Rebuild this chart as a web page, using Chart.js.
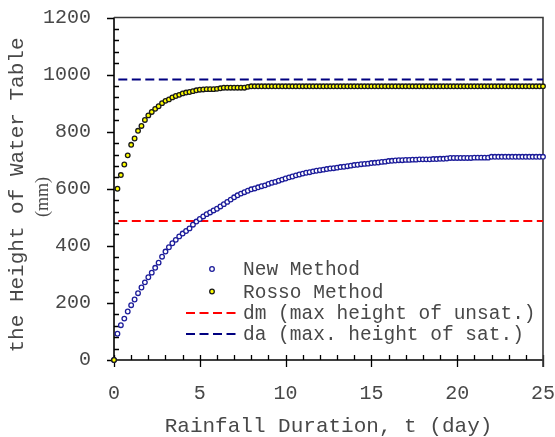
<!DOCTYPE html>
<html>
<head>
<meta charset="utf-8">
<script src="https://cdn.jsdelivr.net/npm/chart.js@4/dist/chart.umd.min.js"></script>
<style>
  html, body { margin: 0; padding: 0; background: #ffffff; }
  #wrap { width: 555px; height: 437px; }
</style>
</head>
<body>
<div id="wrap"><canvas id="c" width="555" height="437"></canvas></div>
<script>
// Rainfall duration (day)
const days = [
  0,0.2,0.4,0.6,0.8,1,1.2,1.4,1.6,1.8,
  2,2.2,2.4,2.6,2.8,3,3.2,3.4,3.6,3.8,
  4,4.2,4.4,4.6,4.8,5,5.2,5.4,5.6,5.8,
  6,6.2,6.4,6.6,6.8,7,7.2,7.4,7.6,7.8,
  8,8.2,8.4,8.6,8.8,9,9.2,9.4,9.6,9.8,
  10,10.2,10.4,10.6,10.8,11,11.2,11.4,11.6,11.8,
  12,12.2,12.4,12.6,12.8,13,13.2,13.4,13.6,13.8,
  14,14.2,14.4,14.6,14.8,15,15.2,15.4,15.6,15.8,
  16,16.2,16.4,16.6,16.8,17,17.2,17.4,17.6,17.8,
  18,18.2,18.4,18.6,18.8,19,19.2,19.4,19.6,19.8,
  20,20.2,20.4,20.6,20.8,21,21.2,21.4,21.6,21.8,
  22,22.2,22.4,22.6,22.8,23,23.2,23.4,23.6,23.8,
  24,24.2,24.4,24.6,24.8,25
];

// Height of water table (mm), new method
const newMethod = [
  0,92,122,145,170,192,212,234,254,272,
  290,306,323,341,362,380,395,409,421,433,
  443,452,461,474,485,494,503,511,517,524,
  530,538,546,554,562,570,577,583,588,593,
  598,601,605,609,612,617,621,624,628,632,
  636,640,643,647,650,653,656,658,661,663,
  665,667,669,671,672,674,676,677,679,681,
  683,684,686,687,688,690,691,692,694,695,
  697,698,699,700,700,701,701,702,702,703,
  703,703,703,704,704,705,705,706,708,708,
  708,708,708,708,708,709,709,709,709,709,
  712,712,712,712,712,712,712,712,712,712,
  712,712,712,712,712,712
];

// Height of water table (mm), Rosso method
const rossoMethod = [
  0,600,648,685,717,754,776,803,820,841,
  857,869,880,889,900,908,913,920,925,929,
  934,937,939,942,945,947,948,949,949,949,
  950,952,954,954,954,954,954,954,954,957,
  959,959,959,959,959,959,959,959,959,959,
  959,959,959,959,959,959,959,959,959,959,
  959,959,959,959,959,959,959,959,959,959,
  959,959,959,959,959,959,959,959,959,959,
  959,959,959,959,959,959,959,959,959,959,
  959,959,959,959,959,959,959,959,959,959,
  959,959,959,959,959,959,959,959,959,959,
  959,959,959,959,959,959,959,959,959,959,
  959,959,959,959,959,959
];

// Reference levels (mm) and the span they are drawn over (day)
const dmLevel = 487;
const daLevel = 983;
const levelSpan = [0.25, 25];

// Axis ticks
const xTickValues = [0, 5, 10, 15, 20, 25];
const yTickValues = [0, 200, 400, 600, 800, 1000, 1200];
const xMinorStep = 1;
const yMinorStep = 40;

const seriesLabels = [
  'New Method',
  'Rosso Method',
  'dm (max height of unsat.)',
  'da (max. height of sat.)'
];

const MONO = '"Liberation Mono", "Courier New", monospace';
const TEXT = '#484848';

const toPoints = (xs, ys) => xs.map((t, i) => ({ x: t, y: ys[i] }));
const levelLine = lvl => levelSpan.map(t => ({ x: t, y: lvl }));

// Minor/major tick marks and the box around the plot
const frameTicks = {
  id: 'frameTicks',
  beforeDatasetsDraw(chart) {
    const { ctx, chartArea: a, scales: { x, y } } = chart;
    ctx.save();
    ctx.strokeStyle = '#000';
    ctx.lineWidth = 1.3;
    ctx.beginPath();
    for (let v = x.min; v <= x.max; v += xMinorStep) {
      const px = Math.round(x.getPixelForValue(v)) + 0.5;
      ctx.moveTo(px, a.bottom);
      ctx.lineTo(px, a.bottom - 5);
    }
    xTickValues.forEach(v => {
      const px = Math.round(x.getPixelForValue(v)) + 0.5;
      ctx.moveTo(px, a.bottom);
      ctx.lineTo(px, a.bottom + 7);
    });
    for (let v = y.min; v <= y.max; v += yMinorStep) {
      if (yTickValues.includes(v)) continue;
      const py = Math.round(y.getPixelForValue(v)) + 0.5;
      ctx.moveTo(a.left, py);
      ctx.lineTo(a.left + 5, py);
    }
    yTickValues.forEach(v => {
      const py = Math.round(y.getPixelForValue(v)) + 0.5;
      ctx.moveTo(a.left - 7, py);
      ctx.lineTo(a.left, py);
    });
    ctx.stroke();

    ctx.lineWidth = 1.6;
    ctx.strokeStyle = '#000';
    ctx.beginPath();
    ctx.moveTo(a.left, a.top);
    ctx.lineTo(a.left, a.bottom);
    ctx.lineTo(a.right, a.bottom);
    ctx.stroke();
    ctx.strokeStyle = '#3a3a3a';
    ctx.beginPath();
    ctx.moveTo(a.left, a.top);
    ctx.lineTo(a.right, a.top);
    ctx.lineTo(a.right, a.bottom + 7);
    ctx.stroke();
    ctx.restore();
  }
};

// Vertical axis title: main line plus unit line
const yTitle = {
  id: 'yTitle',
  afterDraw(chart) {
    const { ctx } = chart;
    ctx.save();
    ctx.fillStyle = TEXT;
    ctx.textAlign = 'center';
    ctx.textBaseline = 'middle';
    ctx.translate(17, 195);
    ctx.rotate(-Math.PI / 2);
    ctx.font = '21px ' + MONO;
    ctx.fillText('the Height of Water Table', 0, 0);
    ctx.font = '18px "Liberation Serif", "Times New Roman", serif';
    ctx.fillText('(mm)', -2, 26.5);
    ctx.restore();
  }
};

// Legend inside the plot area, lower right
const insideLegend = {
  id: 'insideLegend',
  afterDraw(chart) {
    const { ctx, chartArea: a } = chart;
    const textX = a.left + 129;
    const rows = [-91, -68.5, -47, -26];
    ctx.save();
    ctx.font = '19.5px ' + MONO;
    ctx.textBaseline = 'middle';
    ctx.textAlign = 'left';
    chart.data.datasets.forEach((ds, i) => {
      const cy = a.bottom + rows[i];
      if (ds.showLine) {
        ctx.strokeStyle = ds.borderColor;
        ctx.lineWidth = ds.borderWidth;
        ctx.setLineDash(ds.borderDash);
        ctx.beginPath();
        ctx.moveTo(a.left + 72, cy);
        ctx.lineTo(a.left + 123, cy);
        ctx.stroke();
        ctx.setLineDash([]);
      } else {
        ctx.fillStyle = ds.pointBackgroundColor;
        ctx.strokeStyle = ds.pointBorderColor;
        ctx.lineWidth = ds.pointBorderWidth;
        ctx.beginPath();
        ctx.arc(a.left + 98, cy, ds.pointRadius, 0, Math.PI * 2);
        ctx.fill();
        ctx.stroke();
      }
      ctx.fillStyle = TEXT;
      ctx.fillText(ds.label, textX, cy + 1);
    });
    ctx.restore();
  }
};

// Invisible tick marks keep the label gap out of the overflow padding
const hiddenGrid = gap => ({
  display: true,
  drawOnChartArea: false,
  drawTicks: true,
  tickLength: gap,
  tickColor: 'rgba(0,0,0,0)',
  color: 'rgba(0,0,0,0)'
});

new Chart(document.getElementById('c'), {
  type: 'scatter',
  data: {
    datasets: [
      {
        label: seriesLabels[0],
        data: toPoints(days, newMethod),
        showLine: false,
        pointStyle: 'circle',
        pointRadius: 2.3,
        pointBorderWidth: 1.3,
        pointBackgroundColor: '#ffffff',
        pointBorderColor: '#1c1c9a',
        clip: false,
        order: 1
      },
      {
        label: seriesLabels[1],
        data: toPoints(days, rossoMethod),
        showLine: false,
        pointStyle: 'circle',
        pointRadius: 2.3,
        pointBorderWidth: 1.3,
        pointBackgroundColor: '#ffff00',
        pointBorderColor: '#1a1a1a',
        clip: false,
        order: 0
      },
      {
        label: seriesLabels[2],
        data: levelLine(dmLevel),
        showLine: true,
        borderColor: '#ff0000',
        borderWidth: 2,
        borderDash: [9, 4.5],
        pointRadius: 0,
        order: 3
      },
      {
        label: seriesLabels[3],
        data: levelLine(daLevel),
        showLine: true,
        borderColor: '#000080',
        borderWidth: 2,
        borderDash: [9, 4.5],
        pointRadius: 0,
        order: 2
      }
    ]
  },
  options: {
    responsive: false,
    animation: false,
    devicePixelRatio: 1,
    layout: { padding: { left: 43, top: 17.5, right: 0, bottom: 0 } },
    plugins: {
      legend: { display: false },
      tooltip: { enabled: false }
    },
    scales: {
      x: {
        type: 'linear',
        min: 0,
        max: 25,
        afterBuildTicks: s => { s.ticks = xTickValues.map(v => ({ value: v })); },
        grid: hiddenGrid(22),
        border: { display: false },
        ticks: {
          font: { family: MONO, size: 20, lineHeight: 1.2 },
          color: TEXT,
          padding: 0,
          maxRotation: 0,
          callback: v => String(v)
        },
        title: {
          display: true,
          text: 'Rainfall Duration, t (day)',
          font: { family: MONO, size: 21, lineHeight: 1 },
          color: TEXT,
          padding: { top: 9.5, bottom: 0.5 }
        }
      },
      y: {
        type: 'linear',
        min: 0,
        max: 1200,
        afterBuildTicks: s => { s.ticks = yTickValues.map(v => ({ value: v })); },
        grid: hiddenGrid(23),
        border: { display: false },
        ticks: {
          font: { family: MONO, size: 20, lineHeight: 1.2 },
          color: TEXT,
          padding: 0,
          callback: v => String(v)
        }
      }
    }
  },
  plugins: [frameTicks, yTitle, insideLegend]
});
</script>
</body>
</html>
